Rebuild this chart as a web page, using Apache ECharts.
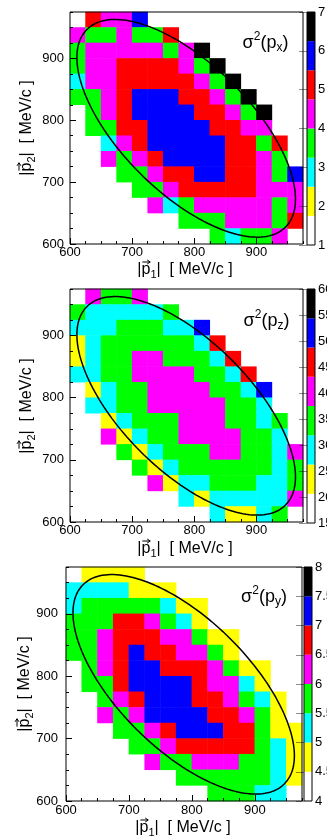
<!DOCTYPE html>
<html><head><meta charset="utf-8">
<script src="https://cdn.jsdelivr.net/npm/echarts@6/dist/echarts.min.js"></script>
<style>html,body{margin:0;padding:0;background:#fff}#c{width:327px;height:837px}</style>
</head><body><div id="c"></div>
<script>
const _ = null;
// bin centres (MeV/c) of the 15 x 15 grid, both axes
const binCenters = [612.5,637.5,662.5,687.5,712.5,737.5,762.5,787.5,812.5,837.5,862.5,887.5,912.5,937.5,962.5];
const axisRange = [600, 975];
const axisTicks = [600, 700, 800, 900];
const palette = ['#ffffff','#ffff00','#00ffff','#00ff00','#ff00ff','#ff0000','#0000ff','#000000'];

// sigma^2(p_x): colour-band edges, colour-bar ticks, cell values (rows from top = 962.5 down to 612.5)
const pxBands = [1, 1.75, 2.5, 3.25, 4, 4.75, 5.5, 6.25, 7];
const pxTicks = [1, 2, 3, 4, 5, 6, 7];
const pxRows = [
  [_,5.1,4.4,4.4,5.9,_,_,_,_,_,_,_,_,_,_],
  [4.4,3.6,3.6,4.4,3.6,3.6,5.1,_,_,_,_,_,_,_,_],
  [3.6,4.4,4.4,4.4,4.4,4.4,3.6,4.4,6.6,_,_,_,_,_,_],
  [3.6,4.4,4.4,5.1,5.1,5.1,5.1,4.4,3.6,6.6,_,_,_,_,_],
  [2.9,4.4,4.4,5.1,5.1,5.1,5.1,5.1,4.4,3.6,6.6,_,_,_,_],
  [3.6,3.6,4.4,5.1,5.9,5.9,5.9,5.1,5.1,4.4,3.6,6.6,_,_,_],
  [_,3.6,4.4,5.1,5.9,5.9,5.9,5.9,5.1,5.1,4.4,3.6,6.6,_,_],
  [_,3.6,3.6,5.1,5.1,5.9,5.9,5.9,5.9,5.1,5.1,4.4,4.4,_,_],
  [_,_,2.9,4.4,5.1,5.9,5.9,5.9,5.9,5.9,5.1,5.1,3.6,5.1,_],
  [_,_,4.4,3.6,4.4,5.1,5.9,5.9,5.9,5.9,5.1,5.1,4.4,3.6,_],
  [_,_,_,3.6,3.6,4.4,5.1,5.1,5.9,5.9,5.1,5.1,4.4,3.6,5.9],
  [_,_,_,_,3.6,3.6,4.4,5.1,5.1,5.1,5.1,5.1,4.4,4.4,4.4],
  [_,_,_,_,_,4.4,2.9,3.6,4.4,4.4,4.4,4.4,4.4,3.6,4.4],
  [_,_,_,_,_,_,_,3.6,3.6,3.6,4.4,4.4,4.4,3.6,5.1],
  [_,_,_,_,_,_,_,_,_,3.6,2.9,3.6,3.6,4.4,_]
];

// sigma^2(p_z)
const pzBands = [15, 20.625, 26.25, 31.875, 37.5, 43.125, 48.75, 54.375, 60];
const pzTicks = [15, 20, 25, 30, 35, 40, 45, 50, 55, 60];
const pzRows = [
  [_,40.3,34.7,34.7,40.3,_,_,_,_,_,_,_,_,_,_],
  [34.7,29.1,29.1,29.1,29.1,29.1,34.7,_,_,_,_,_,_,_,_],
  [29.1,29.1,29.1,34.7,34.7,34.7,29.1,29.1,51.6,_,_,_,_,_,_],
  [23.4,29.1,34.7,34.7,34.7,34.7,34.7,34.7,29.1,45.9,_,_,_,_,_],
  [23.4,29.1,34.7,34.7,40.3,40.3,34.7,34.7,34.7,29.1,45.9,_,_,_,_],
  [29.1,29.1,34.7,34.7,40.3,40.3,40.3,40.3,34.7,34.7,29.1,45.9,_,_,_],
  [_,23.4,29.1,34.7,34.7,40.3,40.3,40.3,40.3,34.7,34.7,29.1,51.6,_,_],
  [_,29.1,29.1,34.7,34.7,40.3,40.3,40.3,40.3,40.3,34.7,34.7,29.1,_,_],
  [_,_,23.4,29.1,34.7,34.7,34.7,40.3,40.3,40.3,34.7,34.7,29.1,34.7,_],
  [_,_,40.3,23.4,29.1,34.7,34.7,40.3,40.3,40.3,40.3,34.7,34.7,29.1,_],
  [_,_,_,34.7,23.4,29.1,34.7,34.7,34.7,40.3,40.3,34.7,34.7,29.1,40.3],
  [_,_,_,_,34.7,23.4,29.1,34.7,34.7,34.7,34.7,34.7,34.7,29.1,34.7],
  [_,_,_,_,_,40.3,23.4,29.1,29.1,34.7,34.7,34.7,29.1,29.1,34.7],
  [_,_,_,_,_,_,_,29.1,23.4,29.1,29.1,29.1,29.1,29.1,40.3],
  [_,_,_,_,_,_,_,_,_,29.1,23.4,23.4,29.1,34.7,_]
];

// sigma^2(p_y)
const pyBands = [4, 4.5, 5, 5.5, 6, 6.5, 7, 7.5, 8];
const pyTicks = [4, 4.5, 5, 5.5, 6, 6.5, 7, 7.5, 8];
const pyRows = [
  [_,4.75,4.75,4.75,4.75,_,_,_,_,_,_,_,_,_,_],
  [5.25,5.25,5.25,5.25,4.75,4.75,4.75,_,_,_,_,_,_,_,_],
  [5.25,5.75,5.75,5.75,5.75,5.75,5.25,4.75,4.75,_,_,_,_,_,_],
  [5.75,5.75,5.75,6.75,6.75,6.25,5.75,5.25,4.75,_,_,_,_,_,_],
  [5.75,5.75,6.25,6.75,6.75,6.75,6.25,6.25,5.75,4.75,4.75,_,_,_,_],
  [5.75,5.75,6.25,6.75,7.25,6.75,6.75,6.25,6.25,5.75,4.75,_,_,_,_],
  [_,5.75,6.25,6.75,7.25,7.25,6.75,6.75,6.75,6.25,5.75,4.75,4.75,_,_],
  [_,5.75,5.75,6.75,7.25,7.25,7.25,7.25,6.75,6.25,6.25,5.25,4.75,_,_],
  [_,_,5.75,6.25,6.75,7.25,7.25,7.25,6.75,6.75,6.25,5.75,5.25,4.75,_],
  [_,_,6.25,5.75,6.25,7.25,7.25,7.25,7.25,6.75,6.75,6.25,5.75,4.75,_],
  [_,_,_,5.75,5.75,6.25,6.75,7.25,7.25,7.25,6.75,6.75,5.75,4.75,4.75],
  [_,_,_,_,5.75,5.75,6.25,6.75,6.75,6.75,6.75,6.75,5.75,5.25,4.75],
  [_,_,_,_,_,6.25,5.75,5.75,6.25,6.25,6.25,5.75,5.75,5.25,4.75],
  [_,_,_,_,_,_,_,5.75,5.75,5.75,5.75,5.75,5.75,5.25,4.75],
  [_,_,_,_,_,_,_,_,_,5.75,5.75,5.75,5.25,5.25,_]
];

// overlaid ellipse (same in all panels): centre, semi-axes, tilt of the major axis
const ellipseCenter = [787, 787];
const ellipseSemiAxes = [226, 104];
const ellipseTiltDeg = -45;

const FONT = 'Liberation Sans';
const panels = [
  {rows: pxRows, bands: pxBands, ticks: pxTicks, sub: 'x',
   grid: {left: 70, top: 12, width: 233, height: 232}, cb: {left: 307, top: 12, width: 8, height: 233},
   yLabelMargin: 6, xLabelMargin: 2, sigma: [265.5, 43], xTitle: [185, 270], yTitle: [27, 128]},
  {rows: pzRows, bands: pzBands, ticks: pzTicks, sub: 'z',
   grid: {left: 70, top: 289, width: 233, height: 233}, cb: {left: 307, top: 289, width: 8, height: 234},
   yLabelMargin: 6, xLabelMargin: 2, sigma: [266.5, 321], xTitle: [185, 549], yTitle: [27, 406]},
  {rows: pyRows, bands: pyBands, ticks: pyTicks, sub: 'y',
   grid: {left: 66, top: 567, width: 236, height: 234}, cb: {left: 304, top: 567, width: 8, height: 234},
   yLabelMargin: 8, xLabelMargin: 3, sigma: [264, 597], xTitle: [183, 828], yTitle: [25, 684]}
];

const mctx = document.createElement('canvas').getContext('2d');
function measure(t, s) { mctx.font = s + 'px "' + FONT + '"'; return mctx.measureText(t).width; }
function buildLabel(cx, cy, parts, rotation) {
  const widths = parts.map(p => measure(p.t, p.s));
  const total = widths.reduce((a, b) => a + b, 0);
  let x = -total / 2;
  const children = [];
  parts.forEach((p, i) => {
    children.push({type: 'text', x: x, y: p.dy || 0,
      style: {text: p.t, fontSize: p.s, fontFamily: FONT, fill: '#000',
              textAlign: 'left', textVerticalAlign: 'middle', align: 'left', verticalAlign: 'middle'}});
    if (p.arrow) {
      const ay = -p.s * 0.5, x0 = x + widths[i] * 0.1, x1 = x + widths[i] * 0.98;
      children.push({type: 'line', shape: {x1: x0, y1: ay, x2: x1, y2: ay}, style: {stroke: '#000', lineWidth: 1}});
      children.push({type: 'polyline', shape: {points: [[x1 - 3, ay - 2], [x1, ay], [x1 - 3, ay + 2]]},
        style: {stroke: '#000', fill: null, lineWidth: 1}});
    }
    x += widths[i];
  });
  return {type: 'group', x: cx, y: cy, rotation: rotation || 0, children: children};
}

function ellipsePoints() {
  const pts = [];
  const th = ellipseTiltDeg * Math.PI / 180;
  const ux = Math.cos(th), uy = Math.sin(th);
  for (let k = 0; k <= 180; k++) {
    const t = k / 180 * 2 * Math.PI;
    const u = ellipseSemiAxes[0] * Math.cos(t), v = ellipseSemiAxes[1] * Math.sin(t);
    pts.push([ellipseCenter[0] + u * ux - v * uy, ellipseCenter[1] + u * uy + v * ux]);
  }
  return pts;
}
const ellipseData = ellipsePoints();

const option = {
  animation: false, backgroundColor: '#fff',
  grid: [], xAxis: [], yAxis: [], series: [], visualMap: [], graphic: {elements: []}
};

const gridBase = {show: true, borderColor: '#000', borderWidth: 1, z: 10, containLabel: false, outerBoundsMode: 'none'};

panels.forEach((P, i) => {
  const gi = 2 * i, ci = 2 * i + 1;
  option.grid.push(Object.assign({}, gridBase, P.grid));
  option.grid.push(Object.assign({}, gridBase, P.cb));
  const catX = option.xAxis.length;
  // minor ticks via category boundaries
  option.xAxis.push({type: 'category', gridIndex: gi, position: 'bottom', data: binCenters.map(String), z: 10,
    axisLine: {show: false, onZero: false}, axisLabel: {show: false}, splitLine: {show: false},
    axisTick: {show: true, inside: true, length: 3, interval: 0, lineStyle: {color: '#000'}}});
  const valX = option.xAxis.length;
  option.xAxis.push({type: 'value', gridIndex: gi, position: 'bottom', min: axisRange[0], max: axisRange[1], z: 10,
    axisLine: {show: false, onZero: false}, splitLine: {show: false},
    axisTick: {show: true, inside: true, length: 6, customValues: axisTicks, lineStyle: {color: '#000'}},
    axisLabel: {customValues: axisTicks, fontSize: 13, fontFamily: FONT, color: '#000', margin: P.xLabelMargin}});
  const cbX = option.xAxis.length;
  option.xAxis.push({type: 'value', gridIndex: ci, min: 0, max: 1, show: false});

  const catY = option.yAxis.length;
  option.yAxis.push({type: 'category', gridIndex: gi, position: 'left', data: binCenters.map(String), z: 10,
    axisLine: {show: false, onZero: false}, axisLabel: {show: false}, splitLine: {show: false},
    axisTick: {show: true, inside: true, length: 3, interval: 0, lineStyle: {color: '#000'}}});
  const valY = option.yAxis.length;
  option.yAxis.push({type: 'value', gridIndex: gi, position: 'left', min: axisRange[0], max: axisRange[1], z: 10,
    axisLine: {show: false, onZero: false}, splitLine: {show: false},
    axisTick: {show: true, inside: true, length: 6, customValues: axisTicks, lineStyle: {color: '#000'}},
    axisLabel: {customValues: axisTicks, fontSize: 13, fontFamily: FONT, color: '#000', margin: P.yLabelMargin}});
  const cbY = option.yAxis.length;
  option.yAxis.push({type: 'value', gridIndex: ci, position: 'right', min: P.bands[0], max: P.bands[P.bands.length - 1], z: 10,
    axisLine: {show: false}, splitLine: {show: false},
    axisTick: {show: true, inside: true, length: 8, customValues: P.ticks, lineStyle: {color: 'rgba(0,0,0,0.45)'}},
    axisLabel: {customValues: P.ticks, fontSize: 13, fontFamily: FONT, color: '#000', margin: 3, hideOverlap: false}});

  // heatmap cells
  const data = [];
  P.rows.forEach((row, r) => row.forEach((v, c) => { if (v !== null) data.push([c, P.rows.length - 1 - r, v]); }));
  const hmIndex = option.series.length;
  option.series.push({type: 'heatmap', xAxisIndex: catX, yAxisIndex: catY, data: data, silent: true,
    itemStyle: {borderWidth: 0}, emphasis: {disabled: true}});
  option.visualMap.push({type: 'piecewise', show: false, seriesIndex: hmIndex, dimension: 2,
    pieces: P.bands.slice(0, -1).map((lo, k) => ({min: lo, max: P.bands[k + 1], color: palette[k]}))});
  // ellipse
  option.series.push({type: 'line', xAxisIndex: valX, yAxisIndex: valY, data: ellipseData, showSymbol: false,
    symbol: 'none', silent: true, lineStyle: {color: '#000', width: 1.5}, z: 5});
  // colour bar
  option.series.push({type: 'custom', xAxisIndex: cbX, yAxisIndex: cbY, silent: true,
    data: P.bands.slice(0, -1).map((lo, k) => [0.5, lo, P.bands[k + 1], k]),
    encode: {x: 0, y: [1, 2]},
    renderItem: function (params, api) {
      const p0 = api.coord([0, api.value(1)]);
      const p1 = api.coord([1, api.value(2)]);
      return {type: 'rect', shape: {x: p0[0], y: p1[1], width: p1[0] - p0[0], height: p0[1] - p1[1]},
        style: {fill: palette[api.value(3)]}};
    }});

  // texts
  option.graphic.elements.push(buildLabel(P.sigma[0], P.sigma[1],
    [{t: 'σ', s: 18}, {t: '2', s: 12, dy: -6}, {t: '(p', s: 18}, {t: P.sub, s: 12, dy: 5}, {t: ')', s: 18}]));
  option.graphic.elements.push(buildLabel(P.xTitle[0], P.xTitle[1],
    [{t: '|', s: 16}, {t: 'p', s: 16, arrow: true}, {t: '1', s: 11, dy: 5}, {t: '|', s: 16}, {t: '  [ MeV/c ]', s: 16}]));
  option.graphic.elements.push(buildLabel(P.yTitle[0], P.yTitle[1],
    [{t: '|', s: 16}, {t: 'p', s: 16, arrow: true}, {t: '2', s: 11, dy: 5}, {t: '|', s: 16}, {t: '  [ MeV/c ]', s: 16}], Math.PI / 2));
});

const chart = echarts.init(document.getElementById('c'), null, {renderer: 'canvas', width: 327, height: 837});
chart.setOption(option);
</script></body></html>
